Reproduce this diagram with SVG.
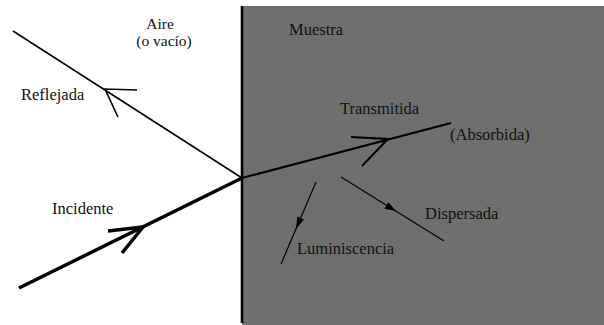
<svg xmlns="http://www.w3.org/2000/svg" width="604" height="325" viewBox="0 0 604 325">
<style>
text { font-family: "Liberation Serif", "DejaVu Serif", serif; font-size: 16.5px; fill: #111; }
.small { font-size: 15.5px; }
.ray { fill: none; stroke: #000; stroke-linecap: butt; stroke-linejoin: miter; }
.head { fill: #000; stroke: none; }
</style>
<rect x="0" y="0" width="604" height="325" fill="#fff"/>
<g id="muestra">
  <rect x="242" y="6" width="362" height="319" fill="#6f6f6f"/>
  <line x1="242" y1="6" x2="242" y2="323" stroke="#000" stroke-width="2.6"/>
  <text x="289" y="35">Muestra</text>
</g>
<g id="aire">
  <text class="small" x="160" y="28.5" text-anchor="middle">Aire</text>
  <text class="small" x="164" y="46" text-anchor="middle">(o vacío)</text>
</g>
<g id="connectors">
  <g id="incidente">
    <line class="ray" x1="19" y1="288" x2="242" y2="178" stroke-width="3.5"/>
    <polyline class="ray" points="108,231 143,227 122,253" stroke-width="3.5"/>
  </g>
  <g id="reflejada">
    <line class="ray" x1="13" y1="31" x2="242" y2="178" stroke-width="1.5"/>
    <polyline class="ray" points="137,90 105,89 118,117" stroke-width="1.6"/>
  </g>
  <g id="transmitida">
    <line class="ray" x1="242" y1="178" x2="451" y2="123" stroke-width="2"/>
    <polyline class="ray" points="351,137 388,139 362,166" stroke-width="2"/>
  </g>
  <g id="dispersada">
    <line class="ray" x1="341" y1="177" x2="444" y2="241" stroke-width="1.2"/>
    <polygon class="head" points="396,211 384.5,208.8 388.4,202.3"/>
  </g>
  <g id="luminiscencia">
    <line class="ray" x1="316" y1="182" x2="281" y2="264" stroke-width="1.2"/>
    <polygon class="head" points="296,229 304,219.5 297.3,216.5"/>
  </g>
</g>
<g id="labels">
  <text x="21" y="100">Reflejada</text>
  <text x="52" y="214">Incidente</text>
  <text x="340" y="114">Transmitida</text>
  <text x="450" y="140">(Absorbida)</text>
  <text x="425" y="219">Dispersada</text>
  <text x="297" y="254">Luminiscencia</text>
</g>
</svg>
